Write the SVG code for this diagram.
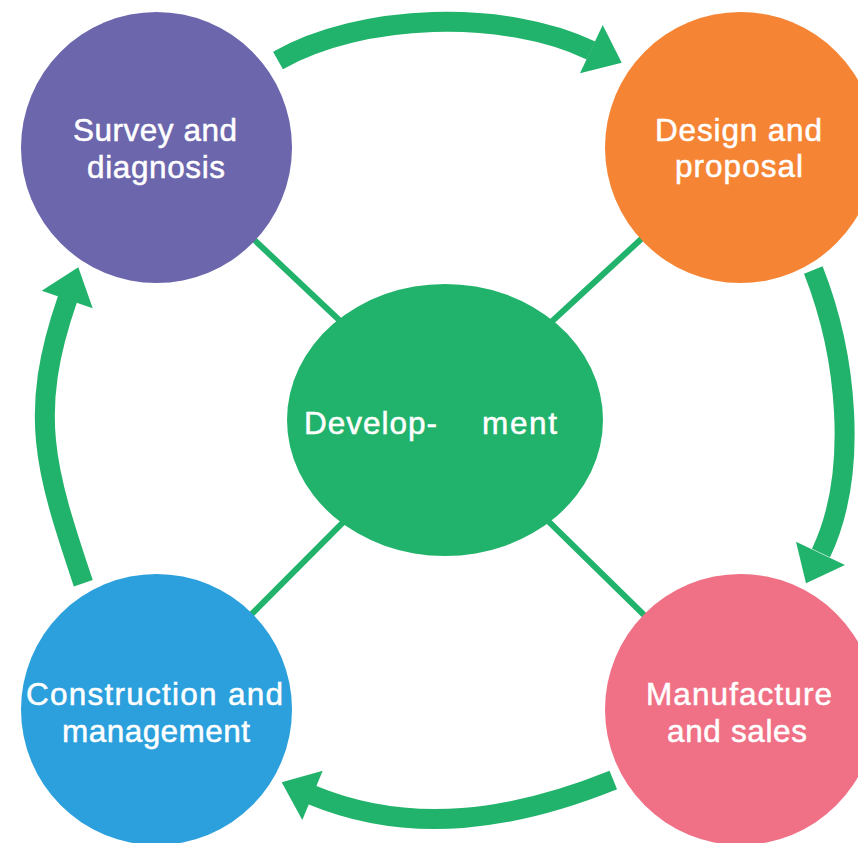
<svg xmlns="http://www.w3.org/2000/svg" width="858" height="843" viewBox="0 0 858 843">
  <style>
    .lbl { font-family: "Liberation Sans", Arial, Helvetica, sans-serif; font-size: 31.5px; fill: #ffffff; stroke: #ffffff; stroke-width: 0.5; }
    .link { stroke: #21B36B; stroke-width: 6; fill: none; }
    .arc { stroke: #21B36B; stroke-width: 20; fill: none; stroke-linecap: butt; }
    .head { fill: #21B36B; }
  </style>
  <rect width="858" height="843" fill="#ffffff"/>
  <g id="connectors">
    <line class="link" x1="156.5" y1="147.5" x2="445" y2="420"/>
    <line class="link" x1="740.5" y1="147.5" x2="445" y2="420"/>
    <line class="link" x1="156.5" y1="709.5" x2="445" y2="420"/>
    <line class="link" x1="740.5" y1="709.5" x2="445" y2="420"/>
    <path class="arc" d="M278,60.5 C361.5,13.1 503.6,8.7 591,50.5"/>
    <polygon class="head" points="621.7,62.7 602.7,25 580,73.3"/>
    <path class="arc" d="M813.3,270 C846.3,353.7 859.7,471.5 821,553"/>
    <polygon class="head" points="806,583.3 796,541.7 845,565"/>
    <path class="arc" d="M613.3,780 C514.1,820 411.4,836.2 312,795"/>
    <polygon class="head" points="281.7,782.3 322.7,770.7 302.3,820"/>
    <path class="arc" d="M83.3,583.3 C44.8,468.6 27.7,413.8 67.5,299"/>
    <polygon class="head" points="78.3,267.3 41.7,290.7 92.7,308.3"/>
  </g>
  <g id="survey">
    <circle cx="156.5" cy="147.5" r="135.5" fill="#6C66AD"/>
    <text class="lbl" x="73" y="141" textLength="164" lengthAdjust="spacing">Survey and</text>
    <text class="lbl" x="87" y="178" textLength="138" lengthAdjust="spacing">diagnosis</text>
  </g>
  <g id="design">
    <circle cx="740.5" cy="147.5" r="135.5" fill="#F58535"/>
    <text class="lbl" x="655" y="141" textLength="167" lengthAdjust="spacing">Design and</text>
    <text class="lbl" x="675" y="177" textLength="128" lengthAdjust="spacing">proposal</text>
  </g>
  <g id="construction">
    <circle cx="156.5" cy="709.5" r="135.5" fill="#2BA0DC"/>
    <text class="lbl" x="26" y="705" textLength="257" lengthAdjust="spacing">Construction and</text>
    <text class="lbl" x="62" y="742" textLength="188" lengthAdjust="spacing">management</text>
  </g>
  <g id="manufacture">
    <circle cx="740.5" cy="709.5" r="135.5" fill="#F07086"/>
    <text class="lbl" x="646" y="705" textLength="186" lengthAdjust="spacing">Manufacture</text>
    <text class="lbl" x="667" y="742" textLength="140" lengthAdjust="spacing">and sales</text>
  </g>
  <g id="development">
    <ellipse cx="445" cy="420" rx="158" ry="136" fill="#21B36B"/>
    <text class="lbl" x="304" y="434" textLength="133" lengthAdjust="spacing">Develop-</text>
    <text class="lbl" x="482" y="434" textLength="75" lengthAdjust="spacing">ment</text>
  </g>
</svg>
